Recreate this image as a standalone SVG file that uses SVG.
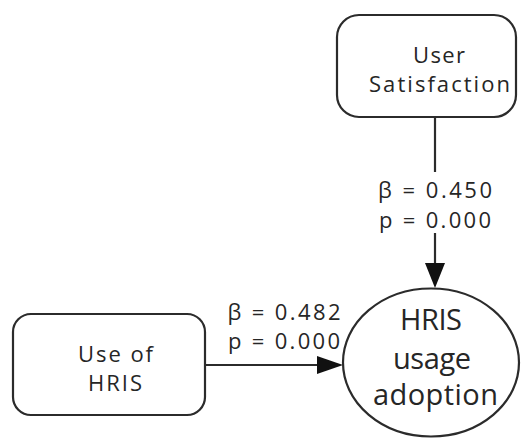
<svg xmlns="http://www.w3.org/2000/svg" width="521" height="438" viewBox="0 0 521 438">
  <style>
    .box { fill: #ffffff; stroke: #2b2b2b; stroke-width: 2.2; }
    .edge { stroke: #2b2b2b; stroke-width: 2.2; fill: none; }
    .lbl { font-family: "Open Sans", "DejaVu Sans", sans-serif; fill: #262626; text-anchor: middle; font-weight: 500; }
    .node { font-size: 22px; }
    .big { font-size: 29px; }
    .coef { font-size: 22px; }
  </style>
  <rect width="521" height="438" fill="#ffffff"/>

  <g id="connectors">
    <!-- User Satisfaction -> HRIS usage adoption -->
    <line class="edge" x1="435" y1="117" x2="435" y2="172"/>
    <line class="edge" x1="435" y1="233" x2="435" y2="264"/>
    <path d="M425,263 L445,263 L435,288 Z" fill="#111"/>
    <!-- Use of HRIS -> HRIS usage adoption -->
    <line class="edge" x1="205" y1="365" x2="318" y2="365"/>
    <path d="M317,356 L343,365 L317,374 Z" fill="#111"/>
    <text class="lbl coef" x="435" y="198" textLength="114" lengthAdjust="spacing">β = 0.450</text>
    <text class="lbl coef" x="435" y="228" textLength="112" lengthAdjust="spacing">p = 0.000</text>
    <text class="lbl coef" x="284" y="320" textLength="113" lengthAdjust="spacing">β = 0.482</text>
    <text class="lbl coef" x="284" y="349" textLength="112" lengthAdjust="spacing">p = 0.000</text>
  </g>

  <g id="user-satisfaction">
    <rect class="box" x="337" y="15" width="179" height="102" rx="22" ry="22"/>
    <text class="lbl node" x="439" y="63" textLength="52" lengthAdjust="spacing">User</text>
    <text class="lbl node" x="439.5" y="92" textLength="141" lengthAdjust="spacing">Satisfaction</text>
  </g>

  <g id="use-of-hris">
    <rect class="box" x="13" y="314" width="192" height="101" rx="18" ry="18"/>
    <text class="lbl node" x="115.5" y="362" textLength="75" lengthAdjust="spacing">Use of</text>
    <text class="lbl node" x="115" y="391" textLength="54" lengthAdjust="spacing">HRIS</text>
  </g>

  <g id="hris-usage-adoption">
    <ellipse class="box" cx="431" cy="362.5" rx="88" ry="74"/>
    <text class="lbl big" x="431" y="330" textLength="62" lengthAdjust="spacing">HRIS</text>
    <text class="lbl big" x="432" y="369" textLength="78" lengthAdjust="spacing">usage</text>
    <text class="lbl big" x="435.5" y="405" textLength="125" lengthAdjust="spacing">adoption</text>
  </g>
</svg>
